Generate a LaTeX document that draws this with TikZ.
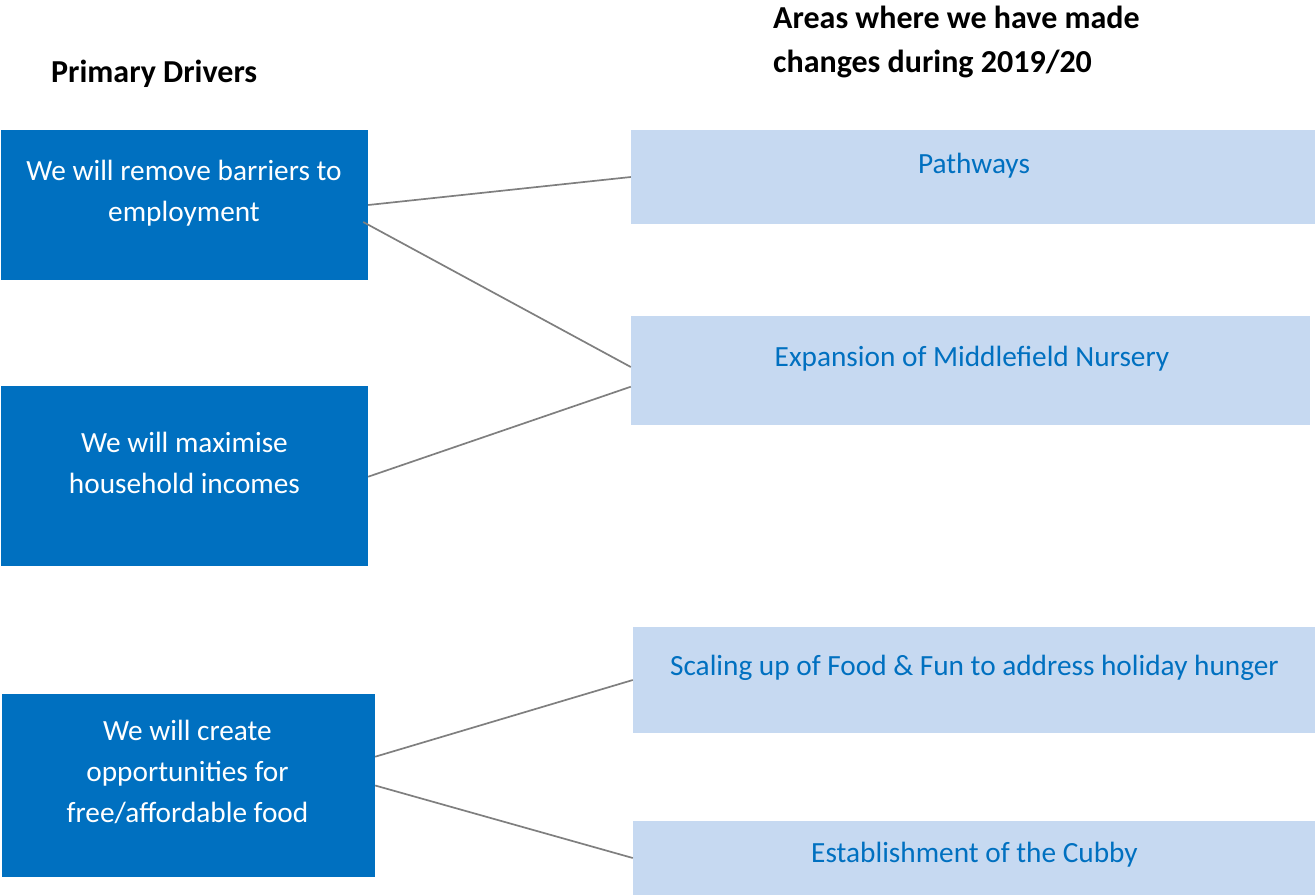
\documentclass[tikz,border=0pt]{standalone}
\usepackage{fontspec}
\setmainfont{Carlito}
\definecolor{darkblue}{HTML}{0070C0}
\definecolor{lightblue}{HTML}{C6D9F1}
\definecolor{linegray}{HTML}{7F7F7F}
\begin{document}
\begin{tikzpicture}[x=1pt,y=-1pt,
  darkbox/.style={fill=darkblue, draw=none, inner sep=0pt},
  lightbox/.style={fill=lightblue, draw=none, inner sep=0pt},
  darktext/.style={text=white, inner sep=0pt, align=center, anchor=base,
    font=\fontsize{29.3pt}{41pt}\selectfont},
  lighttext/.style={text=darkblue, inner sep=0pt, anchor=base,
    font=\fontsize{29.3pt}{41pt}\selectfont},
  titletext/.style={text=black, inner sep=0pt, align=left, anchor=base west,
    font=\fontsize{32pt}{44pt}\selectfont\bfseries},
  link/.style={draw=linegray, line width=1.7pt}]
\useasboundingbox (0,0) rectangle (1315,895);

% titles
\node[titletext] (title1) at (51,82) {Primary Drivers};
\node[titletext] (title2) at (773,72) {Areas where we have made\\changes during 2019/20};

% primary driver boxes
\node[darkbox, minimum width=367pt, minimum height=150pt] (b1) at (184.5,205) {};
\node[darkbox, minimum width=367pt, minimum height=180pt] (b2) at (184.5,476) {};
\node[darkbox, minimum width=373pt, minimum height=183pt] (b3) at (188.5,785.5) {};

% change areas
\node[lightbox, minimum width=684pt, minimum height=94pt] (p1) at (973,177) {};
\node[lightbox, minimum width=679pt, minimum height=109pt] (p2) at (970.5,370.5) {};
\node[lightbox, minimum width=682pt, minimum height=106pt] (p3) at (974,680) {};
\node[lightbox, minimum width=682pt, minimum height=74pt] (p4) at (974,858) {};

% texts (base anchor = baseline of the last line)
\node[darktext] (t1) at (184,221) {We will remove barriers to\\employment};
\node[darktext] (t2) at (184.5,493) {We will maximise\\household incomes};
\node[darktext] (t3) at (187.5,822) {We will create\\opportunities for\\free/affordable food};
\node[lighttext] (s1) at (974,173) {Pathways};
\node[lighttext] (s2) at (972,366) {Expansion of Middlefield Nursery};
\node[lighttext] (s3) at (974.5,675) {Scaling up of Food \& Fun to address holiday hunger};
\node[lighttext] (s4) at (974.5,862) {Establishment of the Cubby};

% connectors
\draw[link] (b1.east) -- (p1.west);
\draw[link] ([xshift=-5pt,yshift=-17pt]b1.east) -- ([yshift=3.5pt]p2.west);
\draw[link] ([yshift=-0.7pt]b2.east) -- ([yshift=-16.2pt]p2.west);
\draw[link] ([yshift=28.8pt]b3.east) -- (p3.west);
\draw[link] (b3.east) -- (p4.west);
\end{tikzpicture}
\end{document}
